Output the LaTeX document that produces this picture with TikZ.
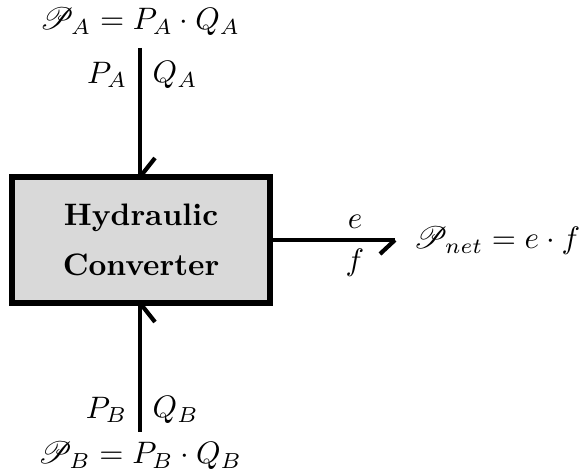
\documentclass[tikz,border=0pt]{standalone}
\usepackage{mathrsfs}
\tikzset{
  bond/.style={line width=1.35pt},
  barb/.style={line width=1.35pt},
  conv/.style={draw, line width=1.7pt, fill=black!15, minimum width=83.1pt, minimum height=40.6pt, inner sep=0pt, font=\bfseries, align=center},
  lbl/.style={inner sep=1pt}
}
\begin{document}
\begin{tikzpicture}[x=0.322pt,y=-0.322pt]
\useasboundingbox (0,0) rectangle (580,474);
\node[conv] (box) at (141,240) {Hydraulic\\[4pt]Converter};
% top bond
\coordinate (ta) at (140,48);
\coordinate (tb) at (140,177);
\draw[bond] (ta) -- (tb);
\draw[barb] (tb) -- ++(15,-19);
\node[lbl, anchor=east] (pa) at (131,75) {$P_A$};
\node[lbl, anchor=west] (qa) at (149,75) {$Q_A$};
\node[lbl] (powa) at (140,22) {$\mathscr{P}_A = P_A\cdot Q_A$};
% bottom bond
\coordinate (ba) at (140,432);
\coordinate (bb) at (140,303);
\draw[bond] (ba) -- (bb);
\draw[barb] (bb) -- ++(15,19);
\node[lbl, anchor=east] (pb) at (131,410) {$P_B$};
\node[lbl, anchor=west] (qb) at (149,410) {$Q_B$};
\node[lbl] (powb) at (140,456) {$\mathscr{P}_B = P_B\cdot Q_B$};
% right bond
\coordinate (ra) at (270,240);
\coordinate (rb) at (395,240);
\draw[bond] (ra) -- (rb);
\draw[barb] (rb) -- ++(-15,14);
\node[lbl] (e) at (355,222) {$e$};
\node[lbl] (f) at (355,263) {$f$};
\node[lbl, anchor=west] (pnet) at (410,241) {$\mathscr{P}_{net} = e\cdot f$};
\end{tikzpicture}
\end{document}
